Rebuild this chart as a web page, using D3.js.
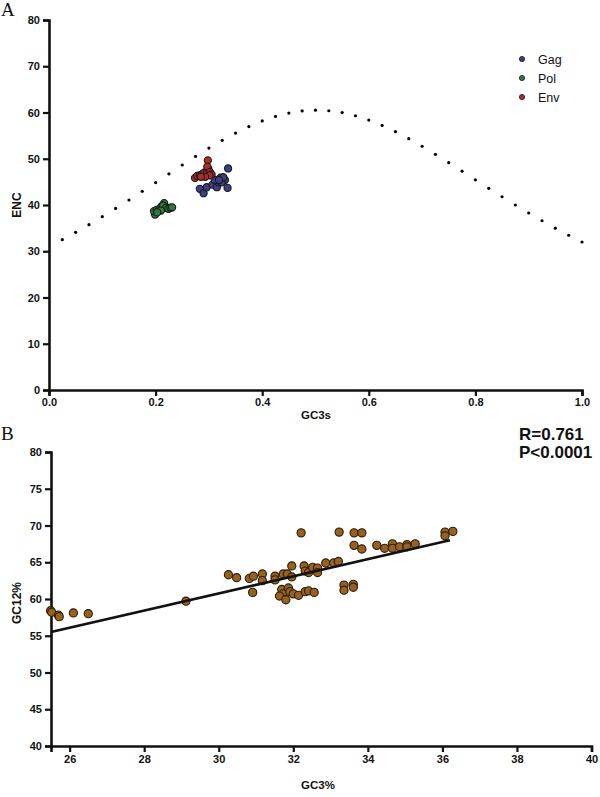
<!DOCTYPE html>
<html>
<head>
<meta charset="utf-8">
<script src="https://cdn.jsdelivr.net/npm/d3@7"></script>
<style>
  html, body { margin: 0; padding: 0; background: #fff; }
  svg { display: block; font-family: Arial, "Liberation Sans", sans-serif; }
  .tick text { font-weight: bold; font-size: 11px; fill: #111; }
</style>
</head>
<body>
<svg id="chart" width="600" height="797"></svg>
<script>
// ---------- Panel A data ----------
const expectedGC3s = [0.025,0.05,0.075,0.1,0.125,0.15,0.175,0.2,0.225,0.25,0.275,0.3,0.325,0.35,0.375,0.4,0.425,0.45,0.475,0.5,
  0.525,0.55,0.575,0.6,0.625,0.65,0.675,0.7,0.725,0.75,0.775,0.8,0.825,0.85,0.875,0.9,0.925,0.95,0.975,1.0];
const expectedENC = [32.51,34.09,35.75,37.47,39.25,41.08,42.95,44.85,46.75,48.65,50.51,52.3,53.99,55.56,56.96,58.17,59.15,59.88,60.33,60.5,
  60.38,59.98,59.30,58.37,57.21,55.86,54.35,52.7,50.96,49.15,47.31,45.45,43.60,41.78,40.00,38.27,36.60,34.99,33.46,32.0];

const gagGC3s = [0.336,0.283,0.290,0.296,0.307,0.315,0.318,0.322,0.330,0.335,0.311,0.324,0.327,0.319];
const gagENC  = [47.9,43.5,42.55,43.85,44.4,43.85,44.9,45.9,45.4,43.7,45.4,44.9,46.0,45.4];
const polGC3s = [0.199,0.197,0.202,0.207,0.211,0.216,0.214,0.220,0.224,0.228,0.231,0.210,0.203];
const polENC  = [37.95,38.67,38.96,39.17,39.68,40.4,39.9,39.4,39.17,39.4,39.5,38.8,38.4];
const envGC3s = [0.298,0.274,0.278,0.283,0.288,0.291,0.296,0.299,0.297,0.302,0.305,0.301,0.293,0.285];
const envENC  = [49.66,45.86,46.3,46.43,46.72,47.0,47.3,47.8,48.3,47.1,46.6,46.4,46.1,46.1];

const seriesNames = ["Gag","Pol","Env"];
const seriesColors = ["#3c3f86","#2f7a3a","#b02a2a"];

const xTicksA = [0,0.2,0.4,0.6,0.8,1.0];
const yTicksA = [0,10,20,30,40,50,60,70,80];

// ---------- Panel B data ----------
const gc3 = [25.49,25.52,25.70,25.72,26.10,26.50,29.12,
  30.26,30.48,30.82,30.93,30.91,31.17,31.17,31.51,31.51,31.73,31.84,31.96,31.96,32.21,32.29,32.32,32.41,32.52,32.65,32.65,32.87,33.08,33.21,
  31.69,31.73,31.63,31.80,31.87,31.91,32.00,32.14,32.32,32.41,32.56,
  33.23,33.63,33.84,33.63,33.84,34.24,34.45,34.66,34.66,34.85,35.05,35.05,35.27,36.07,36.07,36.28,
  33.36,33.36,33.61,33.61];
const gc12 = [58.4,58.2,57.8,57.6,58.1,58.0,59.7,
  63.3,62.9,62.8,63.1,60.9,63.4,62.5,63.1,62.6,63.4,63.4,64.5,63.0,69.0,64.5,63.8,63.6,64.3,64.2,63.6,64.9,64.9,65.1,
  61.3,60.7,60.4,59.9,61.5,61.0,60.7,60.5,61.0,61.1,60.9,
  69.1,69.0,69.0,67.3,66.8,67.3,66.9,67.5,66.9,67.1,67.4,67.1,67.5,69.1,68.6,69.2,
  61.9,61.2,62.0,61.6];
const fitX = [25.5, 36.2];
const fitY = [55.5, 68.0];
const xTicksB = [26,28,30,32,34,36,38,40];
const yTicksB = [40,45,50,55,60,65,70,75,80];

const svg = d3.select("#chart");

function styleAxis(g) {
  g.select(".domain").attr("stroke", "#111").attr("stroke-width", 2.6);
  g.selectAll(".tick line").attr("stroke", "#111").attr("stroke-width", 2.2);
}

// ---------- Panel A ----------
const xA = d3.scaleLinear().domain([0, 1]).range([49, 582]);
const yA = d3.scaleLinear().domain([0, 80]).range([390, 20]);

svg.append("g").attr("transform", "translate(0,390)")
  .call(d3.axisBottom(xA).tickValues(xTicksA).tickFormat(d3.format(".1f")).tickSizeOuter(0).tickSize(6).tickPadding(2))
  .call(styleAxis);
svg.append("g").attr("transform", "translate(49,0)")
  .call(d3.axisLeft(yA).tickValues(yTicksA).tickFormat(d3.format("d")).tickSizeOuter(0).tickSize(6).tickPadding(3))
  .call(styleAxis);

svg.append("g").selectAll("circle").data(expectedGC3s).join("circle")
  .attr("cx", d => xA(d)).attr("cy", (d, i) => yA(expectedENC[i])).attr("r", 1.6).attr("fill", "#000");

const seriesA = [[gagGC3s, gagENC], [polGC3s, polENC], [envGC3s, envENC]];
seriesA.forEach((s, k) => {
  svg.append("g").selectAll("circle").data(s[0]).join("circle")
    .attr("cx", d => xA(d)).attr("cy", (d, i) => yA(s[1][i])).attr("r", 3.6)
    .attr("fill", seriesColors[k]).attr("stroke", "#1a1a1a").attr("stroke-width", 1.1);
});

// legend
seriesNames.forEach((n, k) => {
  const ly = 59 + k * 19;
  svg.append("circle").attr("cx", 522).attr("cy", ly).attr("r", 2.6)
    .attr("fill", seriesColors[k]).attr("stroke", "#1a1a1a").attr("stroke-width", 0.8);
  svg.append("text").attr("x", 538).attr("y", ly + 4.5).attr("font-size", 12.5).attr("fill", "#111").text(n);
});

svg.append("text").attr("x", 316).attr("y", 419).attr("text-anchor", "middle")
  .attr("font-weight", "bold").attr("font-size", 11.5).attr("fill", "#111").text("GC3s");
svg.append("text").attr("transform", "translate(21,205) rotate(-90)").attr("text-anchor", "middle")
  .attr("font-weight", "bold").attr("font-size", 12).attr("fill", "#111").text("ENC");
svg.append("text").attr("x", 1).attr("y", 16).attr("font-family", "'Liberation Serif', 'Times New Roman', serif")
  .attr("font-size", 19).attr("fill", "#111").text("A");

// ---------- Panel B ----------
const xB = d3.scaleLinear().domain([25.5, 40]).range([51, 591.5]);
const yB = d3.scaleLinear().domain([40, 80]).range([746, 452]);

svg.append("g").attr("transform", "translate(0,746)")
  .call(d3.axisBottom(xB).tickValues(xTicksB).tickFormat(d3.format("d")).tickSizeOuter(0).tickSize(6).tickPadding(3))
  .call(styleAxis);
svg.append("g").attr("transform", "translate(51,0)")
  .call(d3.axisLeft(yB).tickValues(yTicksB).tickFormat(d3.format("d")).tickSizeOuter(0).tickSize(6).tickPadding(3))
  .call(styleAxis);

svg.append("g").selectAll("circle").data(gc3).join("circle")
  .attr("cx", d => xB(d)).attr("cy", (d, i) => yB(gc12[i])).attr("r", 4.1)
  .attr("fill", "#97611f").attr("stroke", "#2a1c0a").attr("stroke-width", 1.1);

svg.append("line")
  .attr("x1", xB(fitX[0])).attr("y1", yB(fitY[0])).attr("x2", xB(fitX[1])).attr("y2", yB(fitY[1]))
  .attr("stroke", "#111").attr("stroke-width", 2.6);

svg.append("text").attr("x", 519).attr("y", 440).attr("font-weight", "bold").attr("font-size", 17).attr("fill", "#111").text("R=0.761");
svg.append("text").attr("x", 519).attr("y", 458).attr("font-weight", "bold").attr("font-size", 17).attr("fill", "#111").text("P<0.0001");

svg.append("text").attr("x", 318).attr("y", 789).attr("text-anchor", "middle")
  .attr("font-weight", "bold").attr("font-size", 11.5).attr("fill", "#111").text("GC3%");
svg.append("text").attr("transform", "translate(21,603) rotate(-90)").attr("text-anchor", "middle")
  .attr("font-weight", "bold").attr("font-size", 12).attr("fill", "#111").text("GC12%");
svg.append("text").attr("x", 1).attr("y", 440).attr("font-family", "'Liberation Serif', 'Times New Roman', serif")
  .attr("font-size", 19).attr("fill", "#111").text("B");
</script>
</body>
</html>
